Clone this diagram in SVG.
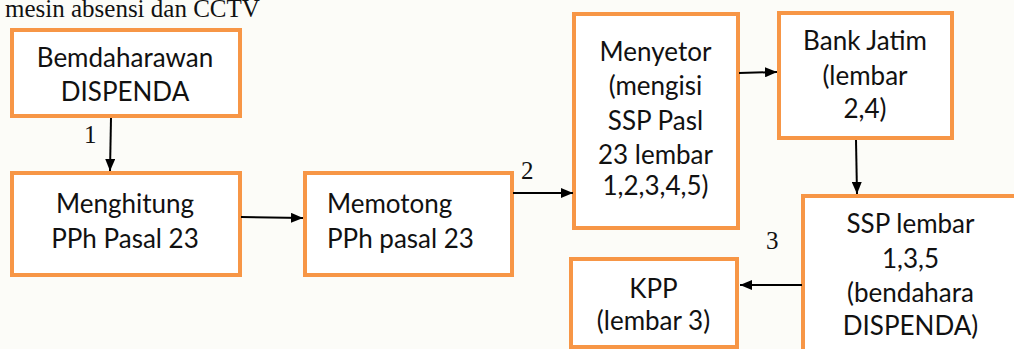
<svg xmlns="http://www.w3.org/2000/svg" width="1014" height="349" viewBox="0 0 1014 349">
<style>
.box{fill:#ffffff;stroke:#f79646;stroke-width:4}
.t{font-family:Lato,"Open Sans",sans-serif;font-size:26px;fill:#111;text-anchor:middle}
.tl{font-family:Lato,"Open Sans",sans-serif;font-size:26px;fill:#111}
.n{font-family:"Liberation Serif",serif;font-size:25px;fill:#111}
.c{stroke:#000;stroke-width:2;fill:none;marker-end:url(#ah)}
</style>
<defs>
<marker id="ah" viewBox="0 0 12 10" refX="12" refY="5" markerWidth="12" markerHeight="10" markerUnits="userSpaceOnUse" orient="auto">
<path d="M0,0 L12,5 L0,10 Z" fill="#000"/>
</marker>
</defs>
<rect width="1014" height="349" fill="#fcfcf8"/>
<text class="n" x="5" y="17">mesin absensi dan CCTV</text>
<g id="bemdaharawan">
<rect class="box" x="12" y="30" width="228" height="86"/>
<text class="t" x="125" y="67">Bemdaharawan</text>
<text class="t" x="125" y="101">DISPENDA</text>
</g>
<g id="menghitung">
<rect class="box" x="12" y="173" width="228" height="102"/>
<text class="t" x="125" y="213">Menghitung</text>
<text class="t" x="125" y="248">PPh Pasal 23</text>
</g>
<g id="memotong">
<rect class="box" x="305" y="173" width="207" height="102"/>
<text class="tl" x="327" y="213">Memotong</text>
<text class="tl" x="327" y="248">PPh pasal 23</text>
</g>
<g id="menyetor">
<rect class="box" x="574" y="14" width="164" height="214"/>
<text class="t" x="655.5" y="61">Menyetor</text>
<text class="t" x="655.5" y="95">(mengisi</text>
<text class="t" x="655.5" y="130">SSP Pasl</text>
<text class="t" x="655.5" y="164">23 lembar</text>
<text class="t" x="655.5" y="195">1,2,3,4,5)</text>
</g>
<g id="bankjatim">
<rect class="box" x="779" y="13" width="173" height="125"/>
<text class="t" x="865" y="50">Bank Jatim</text>
<text class="t" x="865" y="85">(lembar</text>
<text class="t" x="865" y="118">2,4)</text>
</g>
<g id="ssp">
<rect class="box" x="803" y="196" width="230" height="170"/>
<text class="t" x="910.5" y="233">SSP lembar</text>
<text class="t" x="910.5" y="268">1,3,5</text>
<text class="t" x="910.5" y="302">(bendahara</text>
<text class="t" x="910.5" y="335">DISPENDA)</text>
</g>
<g id="kpp">
<rect class="box" x="571" y="259" width="166" height="88"/>
<text class="t" x="653.5" y="298">KPP</text>
<text class="t" x="653.5" y="330">(lembar 3)</text>
</g>
<g id="connectors">
<line class="c" x1="111" y1="118" x2="110" y2="171"/>
<line class="c" x1="241" y1="217" x2="303" y2="218"/>
<line class="c" x1="513" y1="193" x2="573" y2="193"/>
<line class="c" x1="739" y1="73" x2="777" y2="72"/>
<line class="c" x1="856" y1="140" x2="857" y2="194"/>
<line class="c" x1="802" y1="285" x2="740" y2="285"/>
<text class="n" x="84" y="143">1</text>
<text class="n" x="521" y="179">2</text>
<text class="n" x="766" y="249">3</text>
</g>
</svg>
